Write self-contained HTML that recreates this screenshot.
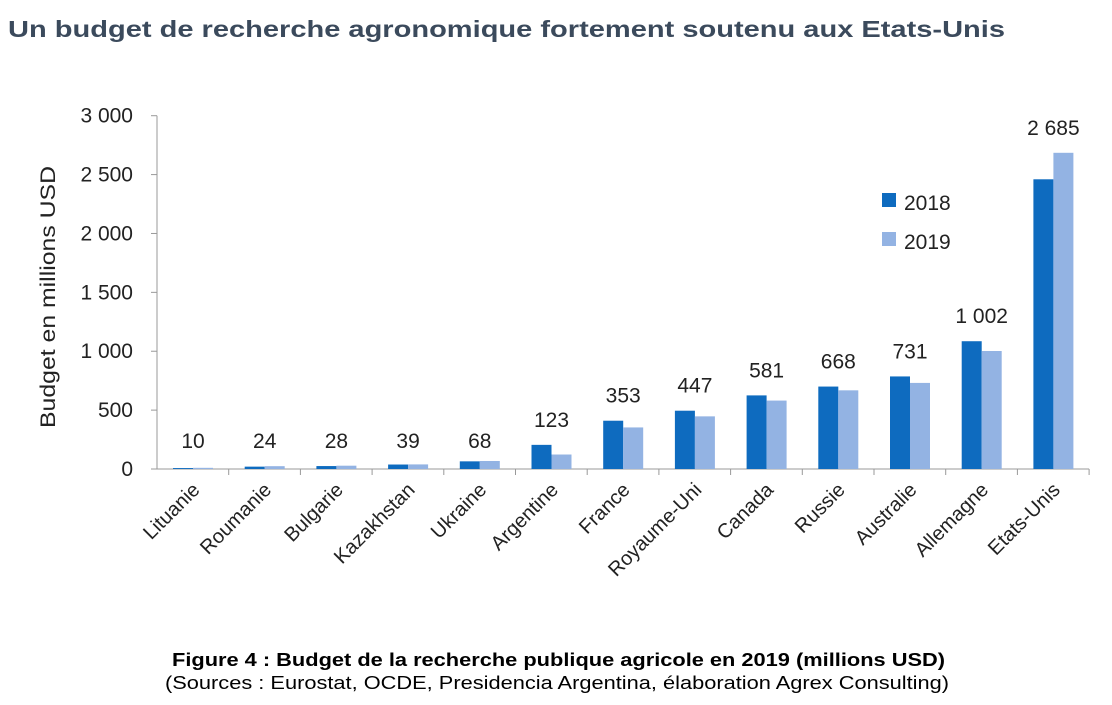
<!DOCTYPE html>
<html><head><meta charset="utf-8"><style>
body{margin:0;background:#fff;width:1112px;height:700px;overflow:hidden;font-family:"Liberation Sans",sans-serif}
</style></head><body>
<svg width="1112" height="700" id="svg">
<text x="8" y="37" font-size="23" font-weight="bold" fill="#3b4a5c" textLength="997" lengthAdjust="spacingAndGlyphs">Un budget de recherche agronomique fortement soutenu aux Etats-Unis</text>
<text x="55" y="297" font-size="21" fill="#222" transform="rotate(-90 55 297)" text-anchor="middle" textLength="262" lengthAdjust="spacingAndGlyphs">Budget en millions USD</text>
<g id="plot"></g>
<g>
<rect x="882" y="193" width="14" height="14" fill="#0e6bbf"/>
<text x="904" y="210" font-size="21" fill="#222">2018</text>
<rect x="882" y="232" width="14" height="14" fill="#93b3e3"/>
<text x="904" y="249" font-size="21" fill="#222">2019</text>
</g>
<text x="172" y="666" font-size="18" font-weight="bold" fill="#000" textLength="773" lengthAdjust="spacingAndGlyphs">Figure 4 : Budget de la recherche publique agricole en 2019 (millions USD)</text>
<text x="165" y="689" font-size="18" fill="#000" textLength="784" lengthAdjust="spacingAndGlyphs">(Sources : Eurostat, OCDE, Presidencia Argentina, élaboration Agrex Consulting)</text>
</svg>
<script>
const categories=["Lituanie","Roumanie","Bulgarie","Kazakhstan","Ukraine","Argentine","France","Royaume-Uni","Canada","Russie","Australie","Allemagne","Etats-Unis"];
const values2018=[8,20,25,38,65,205,410,495,625,700,786,1085,2460];
const values2019=[10,24,28,39,68,123,353,447,581,668,731,1002,2685];
const labels2019=["10","24","28","39","68","123","353","447","581","668","731","1 002","2 685"];
const yTicks=[0,500,1000,1500,2000,2500,3000];
const yTickLabels=["0","500","1 000","1 500","2 000","2 500","3 000"];
const NS="http://www.w3.org/2000/svg";
const g=document.getElementById('plot');
const x0=157,cw=71.7,y0=469,ytop=115.7,ymax=3000;
const ys=v=>y0-(v/ymax)*(y0-ytop);
function mk(t,a){const e=document.createElementNS(NS,t);for(const k in a)e.setAttribute(k,a[k]);g.appendChild(e);return e;}
let ax=mk('line',{x1:x0,y1:ytop,x2:x0,y2:y0,stroke:'#999'});


let bx=mk('line',{x1:x0,y1:y0,x2:x0+cw*categories.length,y2:y0,stroke:'#999'});


yTicks.forEach((t,i)=>{
 mk('line',{x1:x0-6,x2:x0,y1:ys(t),y2:ys(t),stroke:'#999'});
 const tx=mk('text',{x:x0-24,y:ys(t)+7,'font-size':21,'text-anchor':'end',fill:'#222'});
 tx.textContent=yTickLabels[i];
 
 
});
categories.forEach((c,i)=>{
 const cx=x0+cw*i;
 mk('line',{x1:cx+cw,x2:cx+cw,y1:y0,y2:y0+6,stroke:'#999'});
 const b1=mk('rect',{x:cx+16,y:ys(values2018[i]),width:20,height:y0-ys(values2018[i]),fill:'#0e6bbf'});
 
 
 const b2=mk('rect',{x:cx+36,y:ys(values2019[i]),width:20,height:y0-ys(values2019[i]),fill:'#93b3e3'});
 
 
 const top=Math.min(ys(values2018[i]),ys(values2019[i]));
 const lb=mk('text',{x:cx+36,y:top-18,'font-size':21,'text-anchor':'middle',fill:'#222'});
 if(i<5) lb.setAttribute('y',448);
 lb.textContent=labels2019[i];
 
 
 const cl=mk('text',{x:cx+cw/2+8,y:y0+22,'font-size':20,'text-anchor':'end',fill:'#222',transform:`rotate(-45 ${cx+cw/2+8} ${y0+22})`});
 cl.textContent=c;
 
 
});
</script>
</body></html>
